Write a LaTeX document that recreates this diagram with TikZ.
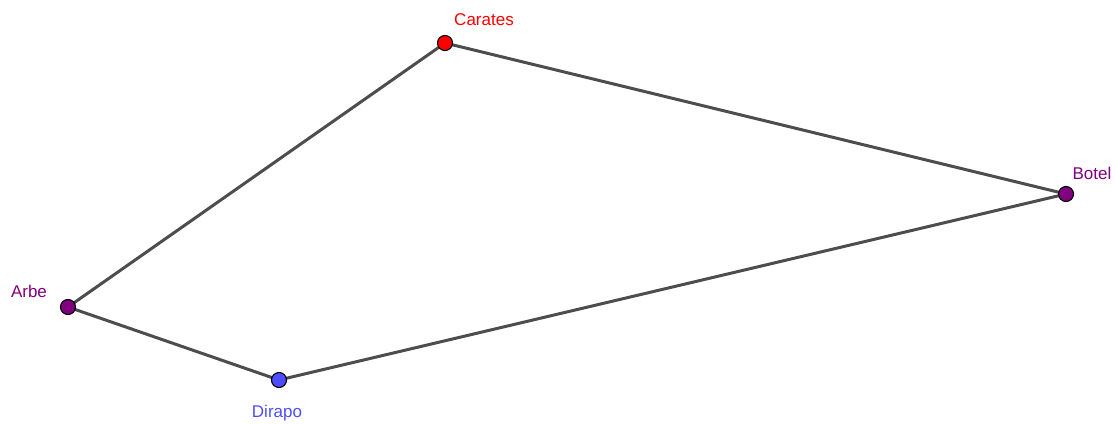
\documentclass[tikz,border=0pt]{standalone}
\usepackage{fontspec}
\setmainfont{Liberation Sans}
\definecolor{ggred}{RGB}{255,0,0}
\definecolor{ggpurple}{RGB}{128,0,128}
\definecolor{ggblue}{RGB}{77,77,255}
\definecolor{ggline}{RGB}{77,77,77}
\tikzset{
  pt/.style={circle,draw=black,line width=1.1pt,inner sep=0pt,minimum size=15pt},
  seg/.style={draw=ggline,line width=3pt},
  lbl/.style={font=\fontsize{17}{20}\selectfont,inner sep=0pt}
}
\begin{document}
\begin{tikzpicture}[x=1pt,y=-1pt]
\useasboundingbox (0,0) rectangle (1115,423);
\coordinate (C) at (445,43);
\coordinate (B) at (1066,194);
\coordinate (A) at (68,307);
\coordinate (D) at (279,380);
\draw[seg] (C) -- (B) -- (D) -- (A) -- cycle;
\node[pt,fill=ggred] (Cn) at (C) {};
\node[pt,fill=ggpurple] (Bn) at (B) {};
\node[pt,fill=ggpurple] (An) at (A) {};
\node[pt,fill=ggblue] (Dn) at (D) {};
\node[lbl,text=ggred] (Cl) at (484,20) {Carates};
\node[lbl,text=ggpurple] (Bl) at (1092,173) {Botel};
\node[lbl,text=ggpurple] (Al) at (29,291) {Arbe};
\node[lbl,text=ggblue] (Dl) at (277,413) {Dirapo};
\end{tikzpicture}
\end{document}
